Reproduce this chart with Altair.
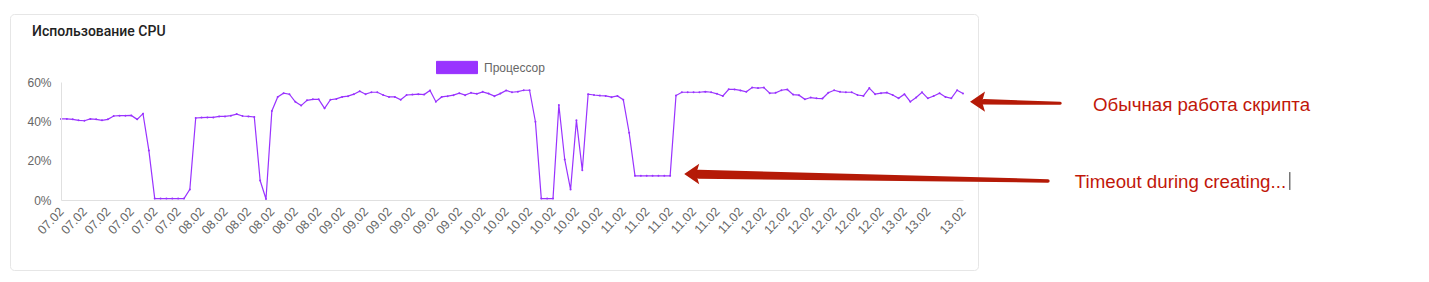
import json
import altair as alt
import pandas as pd

# ---- data -----------------------------------------------------------------
cpu_values = [
    41.2, 41.2, 41.0, 40.5, 40.3, 41.2, 41.0, 40.5, 41.0, 42.7,
    42.9, 42.9, 43.0, 41.0, 43.9, 25.2, 0.7, 0.7, 0.7, 0.7,
    0.7, 0.7, 5.4, 41.7, 41.9, 42.0, 42.0, 42.5, 42.5, 42.9,
    43.7, 42.7, 42.5, 42.2, 9.9, 0.5, 45.3, 52.4, 54.3, 53.8,
    49.9, 48.0, 50.7, 51.2, 51.2, 46.6, 51.0, 51.4, 52.4, 52.8,
    53.8, 55.3, 53.8, 54.8, 54.8, 53.4, 52.4, 52.4, 51.0, 53.4,
    53.6, 53.8, 53.6, 55.7, 50.0, 52.4, 52.8, 53.3, 54.3, 53.3,
    54.5, 54.0, 55.0, 54.1, 52.8, 54.1, 55.7, 54.8, 55.1, 55.8,
    55.8, 39.8, 0.7, 0.7, 0.7, 48.3, 20.6, 5.3, 40.5, 15.1,
    53.8, 53.4, 53.1, 52.9, 52.3, 52.9, 51.0, 34.2, 12.3, 12.3,
    12.3, 12.3, 12.3, 12.3, 12.3, 53.1, 54.8, 54.8, 54.8, 54.8,
    55.1, 54.8, 54.0, 52.9, 56.3, 56.2, 55.7, 55.0, 57.2, 56.9,
    57.2, 54.3, 54.5, 55.8, 56.2, 53.6, 53.3, 51.2, 52.1, 51.7,
    51.6, 54.5, 55.8, 55.0, 54.8, 54.8, 53.4, 52.9, 56.9, 53.8,
    54.3, 54.6, 53.4, 51.7, 53.8, 50.0, 52.1, 54.8, 51.7, 52.9,
    54.3, 52.4, 51.7, 55.8, 54.1,
]
day_labels = ["07.02", "08.02", "09.02", "10.02", "11.02", "12.02", "13.02"]
points_per_day = [24, 24, 24, 24, 24, 24, 11]
point_dates = [d for d, n in zip(day_labels, points_per_day) for _ in range(n)]
tick_index = list(range(0, 149, 4)) + [154]
series_name = "Процессор"
chart_title = "Использование CPU"
y_ticks = [0, 20, 40, 60]

# annotations (in data units: x = point index, y = percent)
note_texts = ["Обычная работа скрипта", "Timeout during creating..."]
note_x = [176.2, 173.1]
note_y = [48.1, 9.15]
arrow_tip_x = [155.2, 106.4]
arrow_tip_y = [50.0, 13.2]
shaft_id = ["a1", "a1", "a2", "a2"]
shaft_x = [157.6, 170.6, 108.9, 168.5]
shaft_y = [49.9, 49.2, 13.1, 9.7]
shaft_w = [5.5, 3.0, 9.0, 3.5]
cursor_x = [209.8]
cursor_y = [5.1]
cursor_y2 = [14.2]

LINE = "#9933ff"
RED_ARROW = "#b51a07"
RED_TEXT = "#c1170a"
FONT = "Liberation Sans"

df = pd.DataFrame({
    "idx": list(range(len(cpu_values))),
    "cpu": cpu_values,
    "series": [series_name] * len(cpu_values),
})

x_scale = alt.Scale(domain=[0, len(cpu_values) - 1], nice=False, zero=False)
y_scale = alt.Scale(domain=[0, 60], nice=False)

label_expr = json.dumps(point_dates) + "[datum.value]"

x_axis = alt.Axis(values=tick_index, labelExpr=label_expr,
                  labelAngle=-47, labelAlign="right",
                  labelBaseline="middle", labelPadding=9,
                  ticks=False, tickSize=0, grid=False,
                  domainColor="#e0e0e0", labelColor="#666666",
                  labelFont=FONT, labelFontSize=12.5,
                  labelOverlap=False, zindex=1)
y_axis = alt.Axis(values=y_ticks, labelExpr="datum.value + '%'",
                  ticks=False, tickSize=0, grid=False,
                  labelPadding=10, domainColor="#e0e0e0",
                  labelColor="#666666", labelFont=FONT,
                  labelFontSize=12, zindex=1)

card = alt.Chart(pd.DataFrame({"k": [0]})).mark_rect(
    fill="white", stroke="#e6e6e6", strokeWidth=1, cornerRadius=4
).encode(
    x=alt.value(-50.5), x2=alt.value(917.5),
    y=alt.value(-67.5), y2=alt.value(188.5),
)

title = alt.Chart(pd.DataFrame({"t": [chart_title]})).mark_text(
    align="left", baseline="middle", font="Roboto", fontSize=14,
    fontWeight=500, color="#222222"
).encode(x=alt.value(-29), y=alt.value(-50.5), text="t:N")

line = alt.Chart(df).mark_line(
    strokeWidth=1.2,
    point=alt.OverlayMarkDef(filled=True, size=4),
).encode(
    x=alt.X("idx:Q", scale=x_scale, title=None, axis=x_axis),
    y=alt.Y("cpu:Q", scale=y_scale, title=None, axis=y_axis),
    color=alt.Color("series:N", scale=alt.Scale(range=[LINE]),
                    legend=alt.Legend(title=None, orient="none",
                                      legendX=375, legendY=-35.5,
                                      symbolType="M-1,-0.3H1V0.3H-1Z",
                                      symbolSize=1681,
                                      symbolFillColor=LINE,
                                      symbolStrokeColor=LINE,
                                      symbolStrokeWidth=1,
                                      labelFont=FONT, labelFontSize=12,
                                      labelColor="#666666", labelOffset=6,
                                      padding=0)),
)

shafts = alt.Chart(pd.DataFrame({
    "id": shaft_id, "x": shaft_x, "y": shaft_y, "w": shaft_w,
})).mark_trail(color=RED_ARROW).encode(
    x=alt.X("x:Q", scale=x_scale, title=None, axis=x_axis),
    y=alt.Y("y:Q", scale=y_scale, title=None, axis=y_axis),
    detail="id:N",
    size=alt.Size("w:Q", scale=None, legend=None),
)

heads = alt.Chart(pd.DataFrame({"x": arrow_tip_x, "y": arrow_tip_y})).mark_point(
    shape="M0,0L1,-0.68L0.8,0L1,0.68Z", size=900, filled=True,
    color=RED_ARROW, opacity=1
).encode(
    x=alt.X("x:Q", scale=x_scale, title=None, axis=x_axis),
    y=alt.Y("y:Q", scale=y_scale, title=None, axis=y_axis),
)

notes = alt.Chart(pd.DataFrame({"x": note_x, "y": note_y, "t": note_texts})).mark_text(
    align="left", baseline="middle", font=FONT, fontSize=18.7, color=RED_TEXT
).encode(
    x=alt.X("x:Q", scale=x_scale, title=None, axis=x_axis),
    y=alt.Y("y:Q", scale=y_scale, title=None, axis=y_axis),
    text="t:N",
)

cursor = alt.Chart(pd.DataFrame({"x": cursor_x, "y": cursor_y, "y2": cursor_y2})).mark_rule(
    color="#333333", strokeWidth=1
).encode(
    x=alt.X("x:Q", scale=x_scale, title=None, axis=x_axis),
    y=alt.Y("y:Q", scale=y_scale, title=None, axis=y_axis),
    y2="y2:Q",
)

chart = alt.layer(card, title, line, shafts, heads, notes, cursor).properties(
    width=902, height=118,
    padding={"left": 10, "top": 14, "right": 5, "bottom": 5},
    autosize=alt.AutoSizeParams(type="pad"),
    background="white",
).configure_view(stroke=None)

chart.save("out.html", embed_options={"renderer": "svg", "actions": False})
